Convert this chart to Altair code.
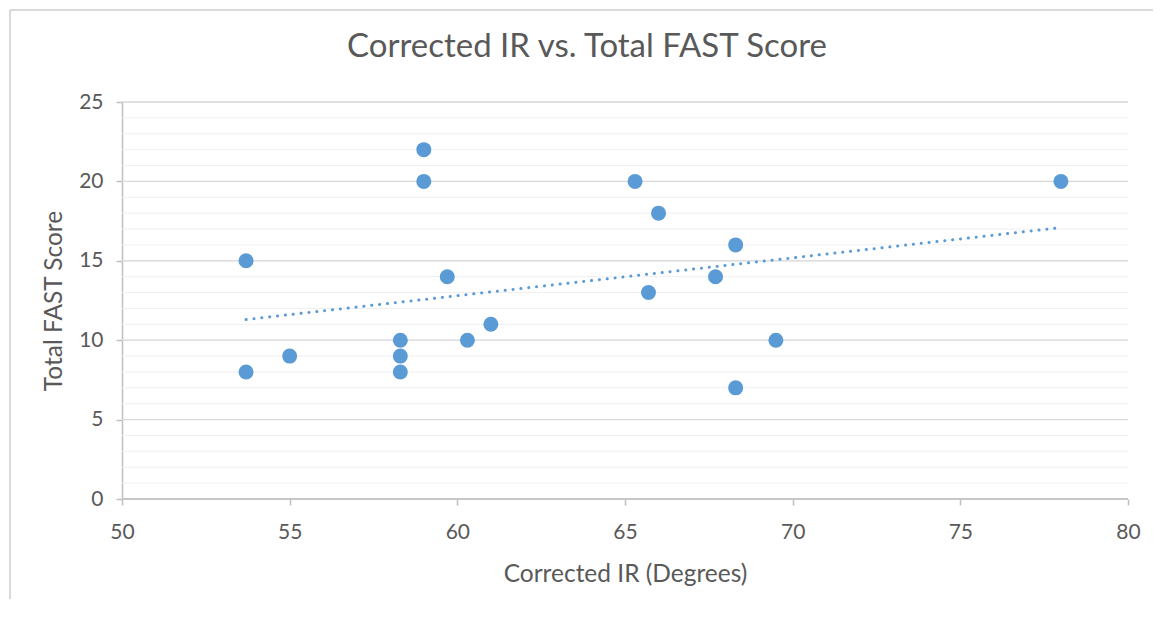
import altair as alt
import pandas as pd

corrected_ir = [53.7, 53.7, 55.0, 58.3, 58.3, 58.3, 59.0, 59.0, 59.7, 60.3, 61.0,
                65.3, 65.7, 66.0, 67.7, 68.3, 68.3, 69.5, 78.0]
fast_score = [15, 8, 9, 10, 9, 8, 22, 20, 14, 10, 11,
              20, 13, 18, 14, 16, 7, 10, 20]
x_ticks = [50, 55, 60, 65, 70, 75, 80]
y_ticks = [0, 5, 10, 15, 20, 25]
y_minor = list(range(0, 26))
chart_title = ["Corrected IR vs. Total FAST Score"]

df = pd.DataFrame({"ir": corrected_ir, "fast": fast_score})
minor_df = pd.DataFrame({"v": y_minor})
major_df = pd.DataFrame({"v": y_ticks})
title_df = pd.DataFrame({"t": chart_title})

FONT = "Lato"
TXT = "#595959"
BLUE = "#5B9BD5"

xscale = alt.Scale(domain=[50, 80], nice=False, zero=False)
yscale = alt.Scale(domain=[0, 25], nice=False)

yaxis = alt.Axis(values=y_ticks, grid=False, domainColor="#bfbfbf", domainWidth=1.5,
                 tickColor="#bfbfbf", tickSize=6, tickWidth=1.5, labelPadding=13,
                 titlePadding=12, labelFontSize=21, titleFontSize=24.5)
xaxis = alt.Axis(values=x_ticks, grid=False, domain=False, tickColor="#bfbfbf",
                 tickSize=6, tickWidth=1.5, labelPadding=16, titlePadding=20,
                 labelFontSize=21, titleFontSize=24.5, labelFlush=False)

minor = alt.Chart(minor_df).mark_rule(color="#efefef", strokeWidth=1).encode(
    y=alt.Y("v:Q", scale=yscale, title="Total FAST Score", axis=yaxis)
)
major = alt.Chart(major_df).mark_rule(color="#d9d9d9", strokeWidth=1.3).encode(
    y=alt.Y("v:Q", scale=yscale)
)

points = alt.Chart(df).mark_circle(size=225, color=BLUE, opacity=1).encode(
    x=alt.X("ir:Q", scale=xscale, title="Corrected IR (Degrees)", axis=xaxis),
    y=alt.Y("fast:Q", scale=yscale),
)

trend = alt.Chart(df).transform_regression("ir", "fast").mark_line(
    color=BLUE, strokeWidth=3, strokeDash=[0.1, 7.8], strokeCap="round"
).encode(
    x=alt.X("ir:Q", scale=xscale),
    y=alt.Y("fast:Q", scale=yscale),
)

baseline = alt.Chart(pd.DataFrame({"v": [0]})).mark_rule(color="#bfbfbf", strokeWidth=1.5).encode(
    y=alt.Y("v:Q", scale=yscale)
)

# light outer chart frame (left and top edges)
frame_left = alt.Chart(pd.DataFrame({"a": [0]})).mark_rule(color="#d9d9d9", strokeWidth=2).encode(
    x=alt.value(-112), y=alt.value(-92), y2=alt.value(520)
)
frame_top = alt.Chart(pd.DataFrame({"a": [0]})).mark_rule(color="#d9d9d9", strokeWidth=2).encode(
    y=alt.value(-92), x=alt.value(-112), x2=alt.value(1040)
)

title_text = alt.Chart(title_df).mark_text(
    font=FONT, fontSize=33, color=TXT, align="center", baseline="middle"
).encode(x=alt.value(465), y=alt.value(-55), text="t:N")

chart = alt.layer(minor, major, baseline, trend, points, frame_left, frame_top,
                  title_text).properties(
    width=1006, height=397,
    autosize=alt.AutoSizeParams(type="none"),
    padding={"left": 114, "top": 94, "right": 25, "bottom": 100},
).configure_view(stroke=None).configure_axis(
    labelFont=FONT, titleFont=FONT, labelColor=TXT, titleColor=TXT, titleFontWeight="normal"
)

chart.save("out.html", embed_options={"renderer": "svg", "actions": False})
